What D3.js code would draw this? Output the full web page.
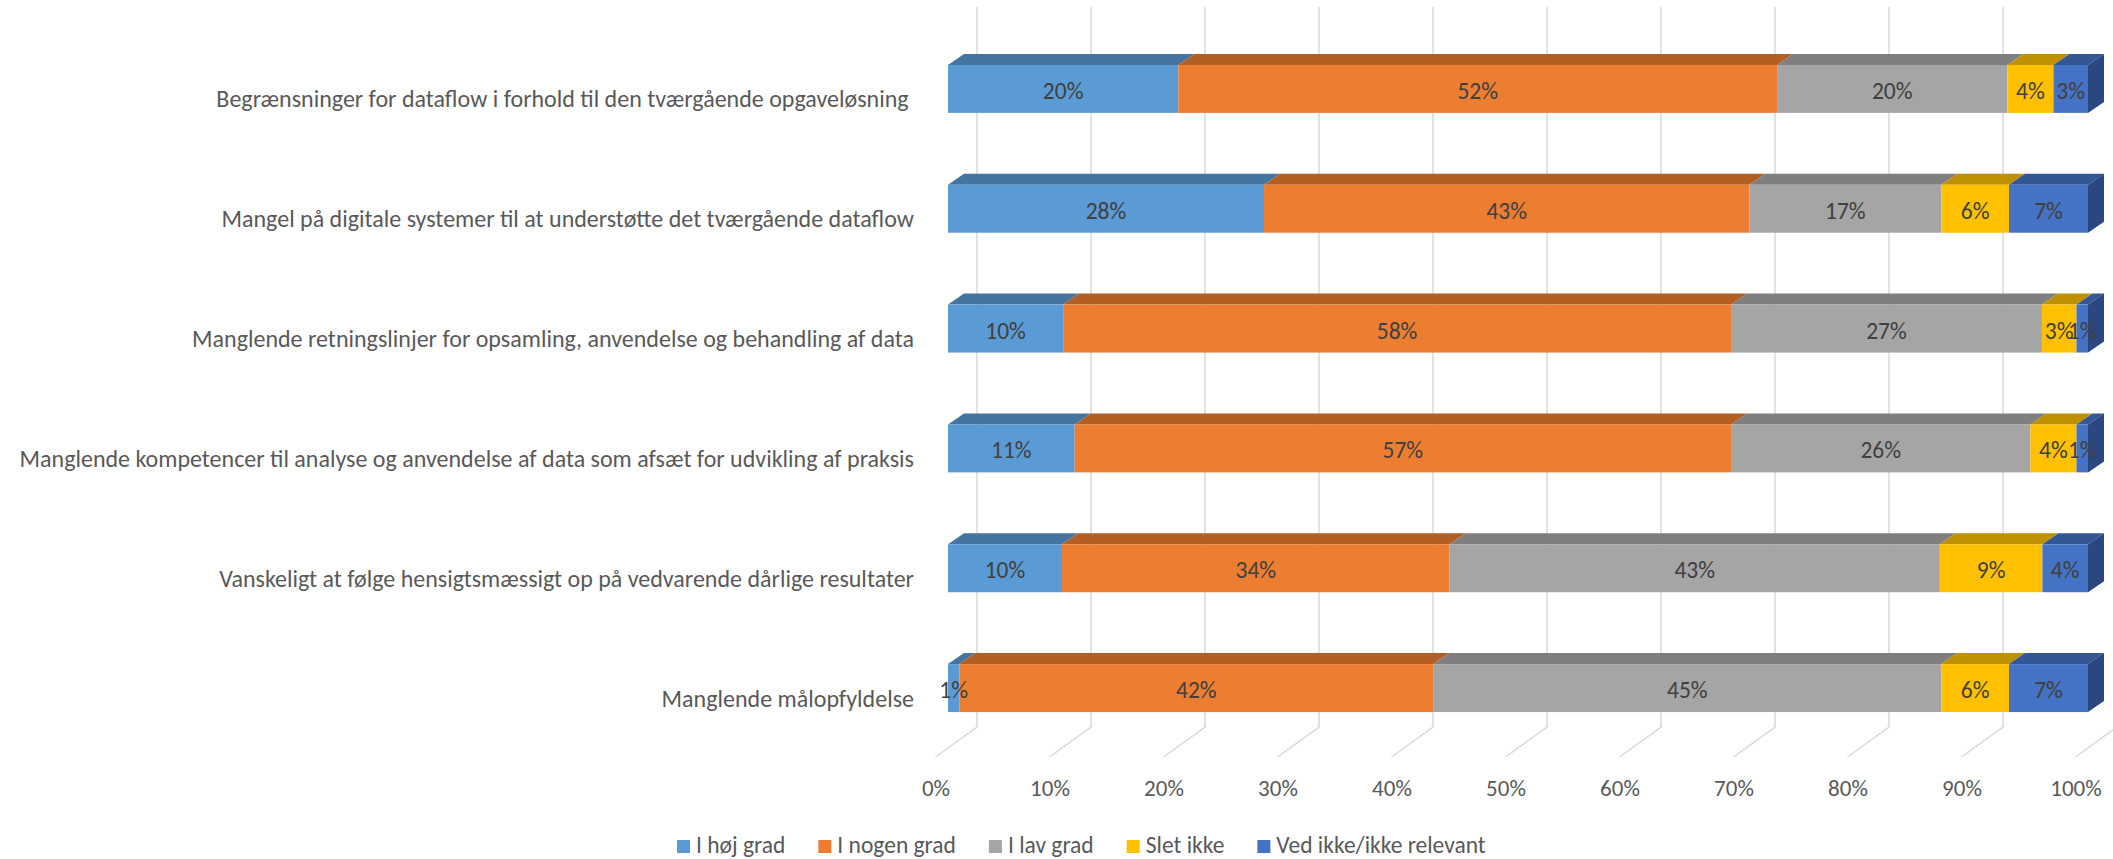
<!DOCTYPE html>
<html>
<head>
<meta charset="utf-8">
<script src="https://cdn.jsdelivr.net/npm/d3@7"></script>
<style>
  html, body { margin: 0; padding: 0; background: #fff; }
  svg { display: block; font-family: Carlito, Calibri, Lato, sans-serif; }
</style>
</head>
<body>
<div id="chart"></div>
<script>
// categories, top to bottom
const categories = [
  'Begrænsninger for dataflow i forhold til den tværgående opgaveløsning ',
  'Mangel på digitale systemer til at understøtte det tværgående dataflow',
  'Manglende retningslinjer for opsamling, anvendelse og behandling af data',
  'Manglende kompetencer til analyse og anvendelse af data som afsæt for udvikling af praksis',
  'Vanskeligt at følge hensigtsmæssigt op på vedvarende dårlige resultater',
  'Manglende målopfyldelse'
];

const seriesNames = ['I høj grad', 'I nogen grad', 'I lav grad', 'Slet ikke', 'Ved ikke/ikke relevant'];

const hojGrad   = [20, 28, 10, 11, 10, 1];
const nogenGrad = [52, 43, 58, 57, 34, 42];
const lavGrad   = [20, 17, 27, 26, 43, 45];
const sletIkke  = [4, 6, 3, 4, 9, 6];
const vedIkke   = [3, 7, 1, 1, 4, 7];

const tickValues = [0, 0.1, 0.2, 0.3, 0.4, 0.5, 0.6, 0.7, 0.8, 0.9, 1];
const tickLabels = ['0%', '10%', '20%', '30%', '40%', '50%', '60%', '70%', '80%', '90%', '100%'];

const frontColors = ['#5B9BD5', '#ED7D31', '#A5A5A5', '#FFC000', '#4472C4'];
const topColors   = ['#44749F', '#B35E23', '#7F7F7F', '#BF9000', '#335694'];
const sideColor = '#2A4780';

const width = 2113, height = 859;
const depthX = 16, depthY = -11;   // bar depth (up-right)

const table = categories.map((c, i) => ({
  cat: c,
  [seriesNames[0]]: hojGrad[i],
  [seriesNames[1]]: nogenGrad[i],
  [seriesNames[2]]: lavGrad[i],
  [seriesNames[3]]: sletIkke[i],
  [seriesNames[4]]: vedIkke[i]
}));

const stacked = d3.stack()
  .keys(seriesNames)
  .offset(d3.stackOffsetExpand)(table);

const x = d3.scaleLinear().domain([0, 1]).range([948, 2088]);
const y = d3.scaleBand()
  .domain(categories)
  .range([29, 748])
  .paddingInner(0.6)
  .paddingOuter(0.3);

const svg = d3.select('#chart')
  .append('svg')
  .attr('width', width)
  .attr('height', height)
  .attr('viewBox', [0, 0, width, height]);

// gridlines: back wall + floor
const grid = svg.append('g')
  .attr('stroke', '#D9D9D9')
  .attr('stroke-width', 1.5)
  .attr('fill', 'none');

grid.selectAll('path')
  .data(tickValues)
  .join('path')
  .attr('d', (d) => {
    const bx = x(d) + 29;
    return `M${bx},7 L${bx},727 L${x(d) - 12.5},757`;
  });

// tick labels
svg.append('g')
  .attr('font-size', 23)
  .attr('fill', '#595959')
  .attr('text-anchor', 'middle')
  .selectAll('text')
  .data(tickValues)
  .join('text')
  .attr('x', (d) => x(d) - 12)
  .attr('y', 788)
  .attr('dominant-baseline', 'central')
  .text((d, i) => tickLabels[i]);

// category labels
svg.append('g')
  .attr('font-size', 24)
  .attr('fill', '#595959')
  .attr('text-anchor', 'end')
  .selectAll('text')
  .data(categories)
  .join('text')
  .attr('x', 914)
  .attr('y', (d) => y(d) + y.bandwidth() / 2 + 10)
  .attr('dominant-baseline', 'central')
  .style('white-space', 'pre')
  .text((d) => d);

// bars
const bh = y.bandwidth();
const series = svg.append('g')
  .selectAll('g')
  .data(stacked)
  .join('g');

// top faces
series.selectAll('path.top')
  .data((s, si) => s.map((d) => ({ d, si })))
  .join('path')
  .attr('class', 'top')
  .attr('fill', (e) => topColors[e.si])
  .attr('d', (e) => {
    const t = y(e.d.data.cat);
    const x0 = x(e.d[0]), x1 = x(e.d[1]);
    return `M${x0},${t} L${x1},${t} L${x1 + depthX},${t + depthY} L${x0 + depthX},${t + depthY}Z`;
  });

// front faces
series.selectAll('rect')
  .data((s, si) => s.map((d) => ({ d, si })))
  .join('rect')
  .attr('fill', (e) => frontColors[e.si])
  .attr('x', (e) => x(e.d[0]))
  .attr('y', (e) => y(e.d.data.cat))
  .attr('width', (e) => x(e.d[1]) - x(e.d[0]))
  .attr('height', bh);

// right side face of the last segment
svg.append('g')
  .attr('fill', sideColor)
  .selectAll('path')
  .data(stacked[stacked.length - 1])
  .join('path')
  .attr('d', (d) => {
    const t = y(d.data.cat);
    const xr = x(d[1]);
    return `M${xr},${t} L${xr + depthX},${t + depthY} L${xr + depthX},${t + bh + depthY} L${xr},${t + bh}Z`;
  });

// data labels
const labelRows = [hojGrad, nogenGrad, lavGrad, sletIkke, vedIkke];
svg.append('g')
  .attr('font-size', 23.5)
  .attr('fill', '#404040')
  .attr('text-anchor', 'middle')
  .selectAll('g')
  .data(stacked)
  .join('g')
  .selectAll('text')
  .data((s, si) => s.map((d, i) => ({ d, v: labelRows[si][i] })))
  .join('text')
  .attr('x', (e) => (x(e.d[0]) + x(e.d[1])) / 2)
  .attr('y', (e) => y(e.d.data.cat) + bh / 2 + 2)
  .attr('dominant-baseline', 'central')
  .text((e) => e.v + '%');

// legend
const legend = svg.append('g')
  .attr('font-size', 23.5)
  .attr('fill', '#595959');

let lx = 677;
seriesNames.forEach((name, i) => {
  legend.append('rect')
    .attr('x', lx)
    .attr('y', 840)
    .attr('width', 13)
    .attr('height', 13)
    .attr('fill', frontColors[i]);
  const t = legend.append('text')
    .attr('x', lx + 19)
    .attr('y', 845)
    .attr('dominant-baseline', 'central')
    .text(name);
  lx += 19 + t.node().getComputedTextLength() + 33;
});
</script>
</body>
</html>
